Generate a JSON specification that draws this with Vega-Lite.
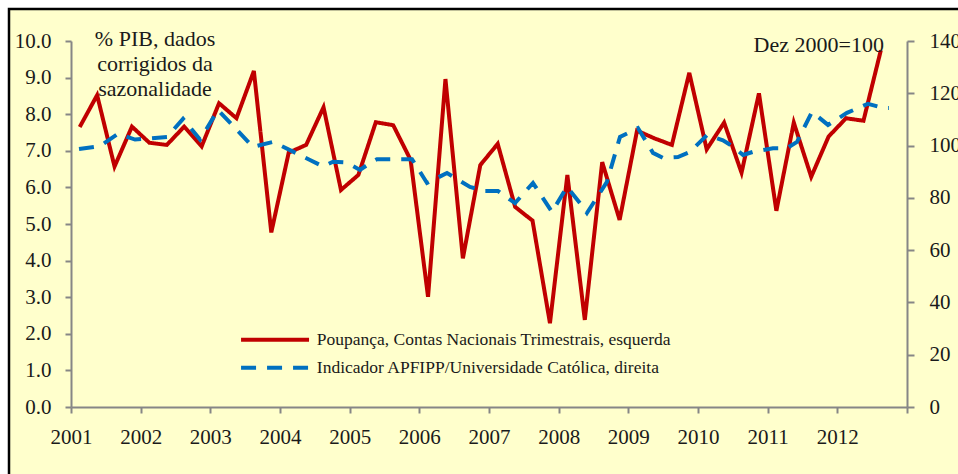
{
  "$schema": "https://vega.github.io/schema/vega-lite/v6.json",
  "width": 949,
  "height": 465,
  "autosize": {"type": "none"},
  "padding": {"left": 9, "top": 9, "right": 0, "bottom": 0},
  "background": "#ffffff",
  "config": {
    "view": {"fill": "#FFFFCC", "stroke": "#000000", "strokeWidth": 2.5, "strokeDash": [949, 1414, 466, 10]},
    "font": "Liberation Serif, Times New Roman, DejaVu Serif, serif",
    "axis": {"labelFont": "Liberation Serif, Times New Roman, DejaVu Serif, serif", "labelFontSize": 21, "labelColor": "#1a1a1a", "domainColor": "#868686", "domainWidth": 2, "tickColor": "#868686", "tickWidth": 2, "grid": false, "title": null, "labelOverlap": false, "labelFlush": false},
    "legend": {"orient": "none", "legendX": 257.3, "legendY": 322, "title": null, "symbolType": "M-6,0H6", "symbolSize": 128.4, "symbolStrokeWidth": 4, "symbolFillColor": "transparent", "labelFont": "Liberation Serif, Times New Roman, DejaVu Serif, serif", "labelFontSize": 17.5, "labelColor": "#1a1a1a", "labelOffset": 33, "rowPadding": 9, "labelLimit": 700, "padding": 0}
  },
  "datasets": {
    "poupanca": [
      {"s": "Poupança, Contas Nacionais Trimestrais, esquerda", "t": 2001.125, "v": 7.65},
      {"s": "Poupança, Contas Nacionais Trimestrais, esquerda", "t": 2001.375, "v": 8.52},
      {"s": "Poupança, Contas Nacionais Trimestrais, esquerda", "t": 2001.625, "v": 6.57},
      {"s": "Poupança, Contas Nacionais Trimestrais, esquerda", "t": 2001.875, "v": 7.66},
      {"s": "Poupança, Contas Nacionais Trimestrais, esquerda", "t": 2002.125, "v": 7.22},
      {"s": "Poupança, Contas Nacionais Trimestrais, esquerda", "t": 2002.375, "v": 7.16},
      {"s": "Poupança, Contas Nacionais Trimestrais, esquerda", "t": 2002.625, "v": 7.66},
      {"s": "Poupança, Contas Nacionais Trimestrais, esquerda", "t": 2002.875, "v": 7.12},
      {"s": "Poupança, Contas Nacionais Trimestrais, esquerda", "t": 2003.125, "v": 8.30},
      {"s": "Poupança, Contas Nacionais Trimestrais, esquerda", "t": 2003.375, "v": 7.89},
      {"s": "Poupança, Contas Nacionais Trimestrais, esquerda", "t": 2003.625, "v": 9.18},
      {"s": "Poupança, Contas Nacionais Trimestrais, esquerda", "t": 2003.875, "v": 4.77},
      {"s": "Poupança, Contas Nacionais Trimestrais, esquerda", "t": 2004.125, "v": 6.95},
      {"s": "Poupança, Contas Nacionais Trimestrais, esquerda", "t": 2004.375, "v": 7.16},
      {"s": "Poupança, Contas Nacionais Trimestrais, esquerda", "t": 2004.625, "v": 8.19},
      {"s": "Poupança, Contas Nacionais Trimestrais, esquerda", "t": 2004.875, "v": 5.93},
      {"s": "Poupança, Contas Nacionais Trimestrais, esquerda", "t": 2005.125, "v": 6.34},
      {"s": "Poupança, Contas Nacionais Trimestrais, esquerda", "t": 2005.375, "v": 7.78},
      {"s": "Poupança, Contas Nacionais Trimestrais, esquerda", "t": 2005.625, "v": 7.70},
      {"s": "Poupança, Contas Nacionais Trimestrais, esquerda", "t": 2005.875, "v": 6.75},
      {"s": "Poupança, Contas Nacionais Trimestrais, esquerda", "t": 2006.125, "v": 3.01},
      {"s": "Poupança, Contas Nacionais Trimestrais, esquerda", "t": 2006.375, "v": 8.96},
      {"s": "Poupança, Contas Nacionais Trimestrais, esquerda", "t": 2006.625, "v": 4.06},
      {"s": "Poupança, Contas Nacionais Trimestrais, esquerda", "t": 2006.875, "v": 6.61},
      {"s": "Poupança, Contas Nacionais Trimestrais, esquerda", "t": 2007.125, "v": 7.19},
      {"s": "Poupança, Contas Nacionais Trimestrais, esquerda", "t": 2007.375, "v": 5.47},
      {"s": "Poupança, Contas Nacionais Trimestrais, esquerda", "t": 2007.625, "v": 5.09},
      {"s": "Poupança, Contas Nacionais Trimestrais, esquerda", "t": 2007.875, "v": 2.29},
      {"s": "Poupança, Contas Nacionais Trimestrais, esquerda", "t": 2008.125, "v": 6.34},
      {"s": "Poupança, Contas Nacionais Trimestrais, esquerda", "t": 2008.375, "v": 2.38},
      {"s": "Poupança, Contas Nacionais Trimestrais, esquerda", "t": 2008.625, "v": 6.69},
      {"s": "Poupança, Contas Nacionais Trimestrais, esquerda", "t": 2008.875, "v": 5.11},
      {"s": "Poupança, Contas Nacionais Trimestrais, esquerda", "t": 2009.125, "v": 7.55},
      {"s": "Poupança, Contas Nacionais Trimestrais, esquerda", "t": 2009.375, "v": 7.34},
      {"s": "Poupança, Contas Nacionais Trimestrais, esquerda", "t": 2009.625, "v": 7.16},
      {"s": "Poupança, Contas Nacionais Trimestrais, esquerda", "t": 2009.875, "v": 9.13},
      {"s": "Poupança, Contas Nacionais Trimestrais, esquerda", "t": 2010.125, "v": 7.04},
      {"s": "Poupança, Contas Nacionais Trimestrais, esquerda", "t": 2010.375, "v": 7.77},
      {"s": "Poupança, Contas Nacionais Trimestrais, esquerda", "t": 2010.625, "v": 6.40},
      {"s": "Poupança, Contas Nacionais Trimestrais, esquerda", "t": 2010.875, "v": 8.57},
      {"s": "Poupança, Contas Nacionais Trimestrais, esquerda", "t": 2011.125, "v": 5.36},
      {"s": "Poupança, Contas Nacionais Trimestrais, esquerda", "t": 2011.375, "v": 7.77},
      {"s": "Poupança, Contas Nacionais Trimestrais, esquerda", "t": 2011.625, "v": 6.29},
      {"s": "Poupança, Contas Nacionais Trimestrais, esquerda", "t": 2011.875, "v": 7.39},
      {"s": "Poupança, Contas Nacionais Trimestrais, esquerda", "t": 2012.125, "v": 7.89},
      {"s": "Poupança, Contas Nacionais Trimestrais, esquerda", "t": 2012.375, "v": 7.82},
      {"s": "Poupança, Contas Nacionais Trimestrais, esquerda", "t": 2012.625, "v": 9.75}
    ],
    "apfipp": [
      {"s": "Indicador APFIPP/Universidade Católica, direita", "t": 2001.115, "v": 98.7},
      {"s": "Indicador APFIPP/Universidade Católica, direita", "t": 2001.416, "v": 99.8},
      {"s": "Indicador APFIPP/Universidade Católica, direita", "t": 2001.675, "v": 104.5},
      {"s": "Indicador APFIPP/Universidade Católica, direita", "t": 2001.919, "v": 102.3},
      {"s": "Indicador APFIPP/Universidade Católica, direita", "t": 2002.378, "v": 103.3},
      {"s": "Indicador APFIPP/Universidade Católica, direita", "t": 2002.608, "v": 110.2},
      {"s": "Indicador APFIPP/Universidade Católica, direita", "t": 2002.852, "v": 102.3},
      {"s": "Indicador APFIPP/Universidade Católica, direita", "t": 2003.110, "v": 113.6},
      {"s": "Indicador APFIPP/Universidade Católica, direita", "t": 2003.612, "v": 99.5},
      {"s": "Indicador APFIPP/Universidade Católica, direita", "t": 2003.899, "v": 101.4},
      {"s": "Indicador APFIPP/Universidade Católica, direita", "t": 2004.287, "v": 96.4},
      {"s": "Indicador APFIPP/Universidade Católica, direita", "t": 2004.430, "v": 94.5},
      {"s": "Indicador APFIPP/Universidade Católica, direita", "t": 2004.617, "v": 92.0},
      {"s": "Indicador APFIPP/Universidade Católica, direita", "t": 2004.761, "v": 93.8},
      {"s": "Indicador APFIPP/Universidade Católica, direita", "t": 2004.962, "v": 93.5},
      {"s": "Indicador APFIPP/Universidade Católica, direita", "t": 2005.148, "v": 90.7},
      {"s": "Indicador APFIPP/Universidade Católica, direita", "t": 2005.320, "v": 93.8},
      {"s": "Indicador APFIPP/Universidade Católica, direita", "t": 2005.392, "v": 94.8},
      {"s": "Indicador APFIPP/Universidade Católica, direita", "t": 2005.895, "v": 94.8},
      {"s": "Indicador APFIPP/Universidade Católica, direita", "t": 2006.110, "v": 85.7},
      {"s": "Indicador APFIPP/Universidade Católica, direita", "t": 2006.397, "v": 89.5},
      {"s": "Indicador APFIPP/Universidade Católica, direita", "t": 2006.727, "v": 84.2},
      {"s": "Indicador APFIPP/Universidade Católica, direita", "t": 2006.942, "v": 82.6},
      {"s": "Indicador APFIPP/Universidade Católica, direita", "t": 2007.129, "v": 82.6},
      {"s": "Indicador APFIPP/Universidade Católica, direita", "t": 2007.373, "v": 78.0},
      {"s": "Indicador APFIPP/Universidade Católica, direita", "t": 2007.631, "v": 85.7},
      {"s": "Indicador APFIPP/Universidade Católica, direita", "t": 2007.904, "v": 74.6},
      {"s": "Indicador APFIPP/Universidade Católica, direita", "t": 2008.119, "v": 84.2},
      {"s": "Indicador APFIPP/Universidade Católica, direita", "t": 2008.306, "v": 78.0},
      {"s": "Indicador APFIPP/Universidade Católica, direita", "t": 2008.406, "v": 74.2},
      {"s": "Indicador APFIPP/Universidade Católica, direita", "t": 2008.693, "v": 86.1},
      {"s": "Indicador APFIPP/Universidade Católica, direita", "t": 2008.880, "v": 103.3},
      {"s": "Indicador APFIPP/Universidade Católica, direita", "t": 2009.138, "v": 106.7},
      {"s": "Indicador APFIPP/Universidade Católica, direita", "t": 2009.354, "v": 97.2},
      {"s": "Indicador APFIPP/Universidade Católica, direita", "t": 2009.497, "v": 95.3},
      {"s": "Indicador APFIPP/Universidade Católica, direita", "t": 2009.712, "v": 95.6},
      {"s": "Indicador APFIPP/Universidade Católica, direita", "t": 2009.885, "v": 97.6},
      {"s": "Indicador APFIPP/Universidade Católica, direita", "t": 2010.129, "v": 104.0},
      {"s": "Indicador APFIPP/Universidade Católica, direita", "t": 2010.358, "v": 102.0},
      {"s": "Indicador APFIPP/Universidade Católica, direita", "t": 2010.508, "v": 99.5},
      {"s": "Indicador APFIPP/Universidade Católica, direita", "t": 2010.646, "v": 96.4},
      {"s": "Indicador APFIPP/Universidade Católica, direita", "t": 2010.789, "v": 97.6},
      {"s": "Indicador APFIPP/Universidade Católica, direita", "t": 2011.076, "v": 99.0},
      {"s": "Indicador APFIPP/Universidade Católica, direita", "t": 2011.277, "v": 99.0},
      {"s": "Indicador APFIPP/Universidade Católica, direita", "t": 2011.421, "v": 101.4},
      {"s": "Indicador APFIPP/Universidade Católica, direita", "t": 2011.636, "v": 112.9},
      {"s": "Indicador APFIPP/Universidade Católica, direita", "t": 2011.866, "v": 107.9},
      {"s": "Indicador APFIPP/Universidade Católica, direita", "t": 2012.138, "v": 112.5},
      {"s": "Indicador APFIPP/Universidade Católica, direita", "t": 2012.440, "v": 116.0},
      {"s": "Indicador APFIPP/Universidade Católica, direita", "t": 2012.655, "v": 114.4},
      {"s": "Indicador APFIPP/Universidade Católica, direita", "t": 2012.741, "v": 114.4}
    ]
  },
  "layer": [
    {
      "layer": [
        {
          "data": {"name": "poupanca"},
          "mark": {"type": "line", "strokeWidth": 4},
          "encoding": {
            "x": {"field": "t", "type": "quantitative",
                  "scale": {"domain": [2001, 2013], "range": [62, 898], "nice": false, "zero": false},
                  "axis": {"values": [2001, 2002, 2003, 2004, 2005, 2006, 2007, 2008, 2009, 2010, 2011, 2012, 2013], "format": "d", "labelExpr": "datum.value >= 2013 ? '' : datum.label", "tickSize": 6, "labelPadding": 13, "labelDx": 8.7, "offset": -67, "labelBaseline": "top"}},
            "y": {"field": "v", "type": "quantitative",
                  "scale": {"domain": [0, 10], "range": [398, 32], "nice": false, "zero": false},
                  "axis": {"orient": "left", "values": [0, 1, 2, 3, 4, 5, 6, 7, 8, 9, 10], "format": ".1f", "tickSize": 6, "labelPadding": 14, "offset": -62}},
            "color": {"field": "s", "type": "nominal", "sort": null,
                      "scale": {"domain": ["Poupança, Contas Nacionais Trimestrais, esquerda", "Indicador APFIPP/Universidade Católica, direita"], "range": ["#C00000", "#0070C0"]}},
            "strokeDash": {"field": "s", "type": "nominal", "sort": null,
                      "scale": {"domain": ["Poupança, Contas Nacionais Trimestrais, esquerda", "Indicador APFIPP/Universidade Católica, direita"], "range": [[1, 0], [15, 11]]}}
          }
        },
        {
          "data": {"values": [{}]},
          "mark": {"type": "text", "text": ["% PIB, dados", "corrigidos da", "sazonalidade"], "font": "Liberation Serif, Times New Roman, DejaVu Serif, serif", "fontSize": 22, "lineHeight": 25, "align": "center", "baseline": "alphabetic", "color": "#1a1a1a"},
          "encoding": {
            "x": {"datum": 2002.206, "type": "quantitative"},
            "y": {"datum": 9.86, "type": "quantitative"}
          }
        },
        {
          "data": {"values": [{}]},
          "mark": {"type": "text", "text": "Dez 2000=100", "font": "Liberation Serif, Times New Roman, DejaVu Serif, serif", "fontSize": 22, "align": "right", "baseline": "alphabetic", "color": "#1a1a1a"},
          "encoding": {
            "x": {"datum": 2012.669, "type": "quantitative"},
            "y": {"datum": 9.70, "type": "quantitative"}
          }
        }
      ]
    },
    {
      "data": {"name": "apfipp"},
      "mark": {"type": "line", "strokeWidth": 4},
      "encoding": {
        "x": {"field": "t", "type": "quantitative"},
        "y": {"field": "v", "type": "quantitative",
              "scale": {"domain": [0, 140], "range": [398, 32], "nice": false, "zero": false},
              "axis": {"orient": "right", "values": [0, 20, 40, 60, 80, 100, 120, 140], "format": "d", "tickSize": 7, "labelPadding": 15, "offset": -51}},
        "color": {"field": "s", "type": "nominal", "sort": null},
        "strokeDash": {"field": "s", "type": "nominal", "sort": null}
      }
    }
  ],
  "resolve": {"scale": {"y": "independent"}}
}
